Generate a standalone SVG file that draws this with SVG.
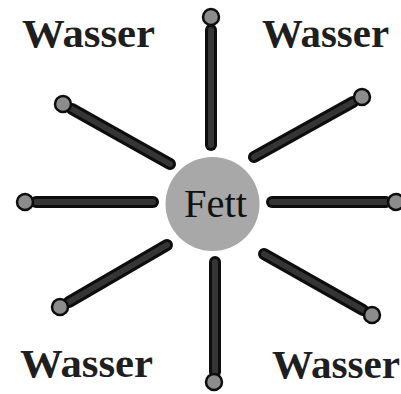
<svg xmlns="http://www.w3.org/2000/svg" width="401" height="394" viewBox="0 0 401 394">
  <style>
    .spoke-o { stroke: #0d0d0d; stroke-width: 12; stroke-linecap: round; fill: none; }
    .spoke-i { stroke: #353535; stroke-width: 6; stroke-linecap: round; fill: none; }
    .dot { fill: #8c8c8c; stroke: #0d0d0d; stroke-width: 2.5; }
    .wasser { font-family: "Liberation Serif", "Times New Roman", serif; font-weight: bold; font-size: 41px; fill: #1e1e1e; }
    .fett { font-family: "Liberation Serif", "Times New Roman", serif; font-size: 39px; fill: #111; }
  </style>
  <rect width="401" height="394" fill="#ffffff"/>
  <g id="connectors">
    <g id="spoke-top">
      <line class="spoke-o" x1="211" y1="30" x2="211" y2="145"/>
      <line class="spoke-i" x1="211" y1="30" x2="211" y2="145"/>
      <circle class="dot" cx="211" cy="17" r="8"/>
    </g>
    <g id="spoke-bottom">
      <line class="spoke-o" x1="215" y1="262" x2="215" y2="372"/>
      <line class="spoke-i" x1="215" y1="262" x2="215" y2="372"/>
      <circle class="dot" cx="214" cy="382" r="8"/>
    </g>
    <g id="spoke-left">
      <line class="spoke-o" x1="36" y1="202" x2="153" y2="202"/>
      <line class="spoke-i" x1="36" y1="202" x2="153" y2="202"/>
      <circle class="dot" cx="25" cy="202" r="8"/>
    </g>
    <g id="spoke-right">
      <line class="spoke-o" x1="272" y1="202" x2="386" y2="202"/>
      <line class="spoke-i" x1="272" y1="202" x2="386" y2="202"/>
      <circle class="dot" cx="396" cy="202" r="8"/>
    </g>
    <g id="spoke-ul">
      <line class="spoke-o" x1="72" y1="109" x2="170" y2="164"/>
      <line class="spoke-i" x1="72" y1="109" x2="170" y2="164"/>
      <circle class="dot" cx="63" cy="104" r="8"/>
    </g>
    <g id="spoke-ur">
      <line class="spoke-o" x1="353" y1="102" x2="254" y2="157"/>
      <line class="spoke-i" x1="353" y1="102" x2="254" y2="157"/>
      <circle class="dot" cx="362" cy="97" r="8"/>
    </g>
    <g id="spoke-ll">
      <line class="spoke-o" x1="69" y1="302" x2="167" y2="245"/>
      <line class="spoke-i" x1="69" y1="302" x2="167" y2="245"/>
      <circle class="dot" cx="60" cy="307" r="8"/>
    </g>
    <g id="spoke-lr">
      <line class="spoke-o" x1="264" y1="254" x2="363" y2="310"/>
      <line class="spoke-i" x1="264" y1="254" x2="363" y2="310"/>
      <circle class="dot" cx="372" cy="315" r="8"/>
    </g>
  </g>
  <g id="fett">
    <circle cx="212.5" cy="204" r="47" fill="#a8a8a8"/>
    <text class="fett" x="184" y="217" textLength="63" lengthAdjust="spacingAndGlyphs">Fett</text>
  </g>
  <g id="wasser-tl"><text class="wasser" x="22" y="47" textLength="133" lengthAdjust="spacingAndGlyphs">Wasser</text></g>
  <g id="wasser-tr"><text class="wasser" x="262" y="47" textLength="127" lengthAdjust="spacingAndGlyphs">Wasser</text></g>
  <g id="wasser-bl"><text class="wasser" x="20" y="377" textLength="133" lengthAdjust="spacingAndGlyphs">Wasser</text></g>
  <g id="wasser-br"><text class="wasser" x="272" y="378" textLength="128" lengthAdjust="spacingAndGlyphs">Wasser</text></g>
</svg>
